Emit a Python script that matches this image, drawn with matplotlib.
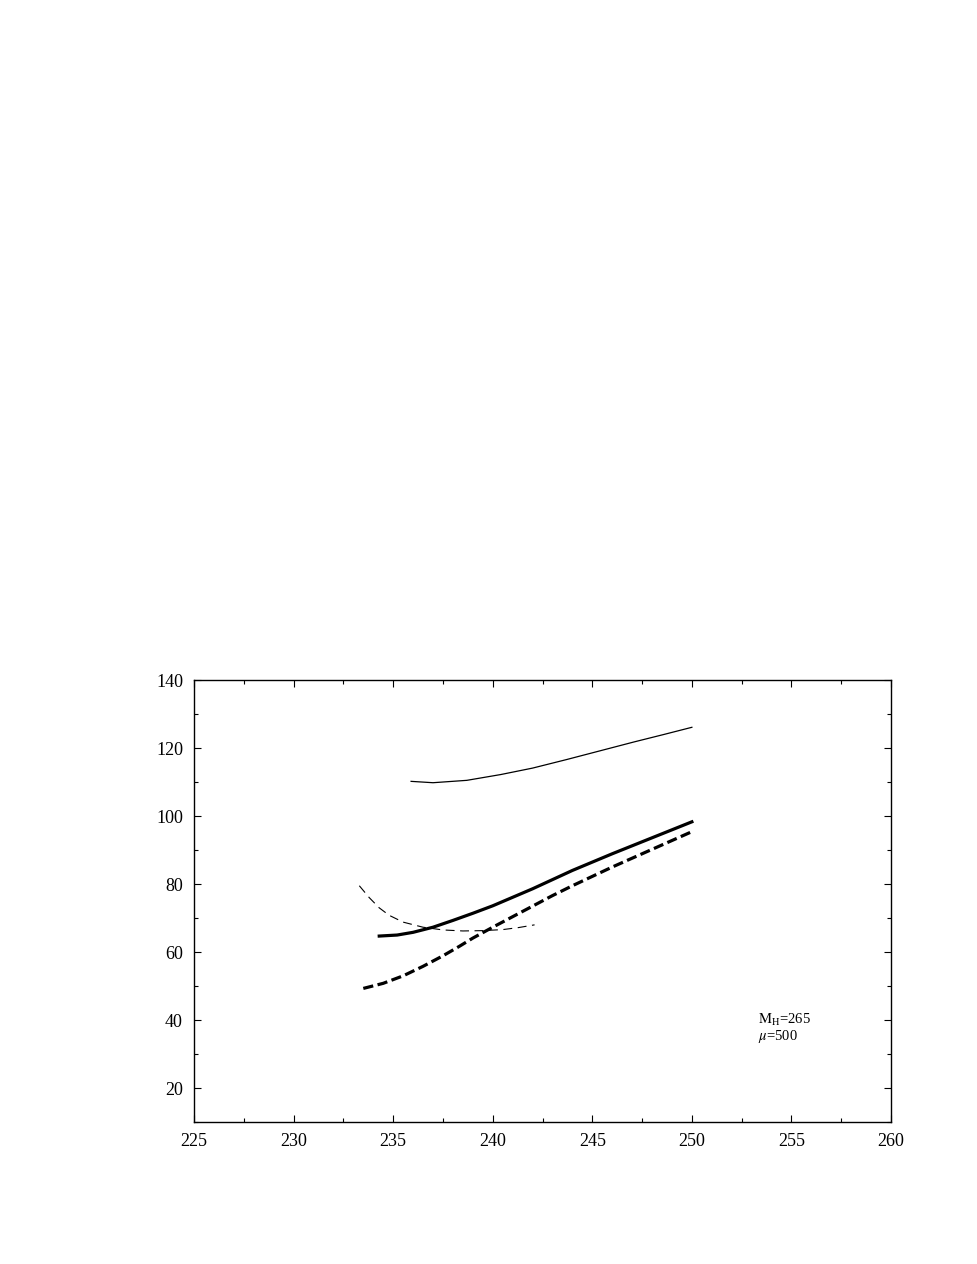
import matplotlib
matplotlib.use('Agg')
import matplotlib.pyplot as plt
from matplotlib.ticker import MultipleLocator

plt.rcParams['font.family'] = ['Liberation Serif', 'DejaVu Serif']
plt.rcParams['mathtext.fontset'] = 'stix'

# 细实线
thin_solid_x = [235.9, 237.0, 238.7, 240.4, 242.0, 243.7, 245.4, 247.1, 248.6, 250.0]
thin_solid_y = [110.2, 109.8, 110.5, 112.2, 114.1, 116.6, 119.2, 121.8, 124.0, 126.1]

# 粗实线
thick_solid_x = [234.3, 235.2, 236.0, 237.0, 238.0, 239.0, 240.0, 242.0, 244.0, 246.0, 248.0, 250.0]
thick_solid_y = [64.7, 65.0, 65.8, 67.3, 69.3, 71.4, 73.6, 78.6, 84.0, 88.9, 93.6, 98.3]

# 粗虚线
thick_dash_x = [233.5, 234.5, 235.5, 236.5, 237.5, 238.3, 239.0, 240.0, 241.0, 242.0, 243.0, 244.0, 246.0, 248.0, 250.0]
thick_dash_y = [49.3, 50.8, 53.0, 55.8, 58.9, 61.6, 64.1, 67.3, 70.4, 73.5, 76.6, 79.5, 85.0, 90.2, 95.4]

# 细虚线
thin_dash_x = [233.3, 233.8, 234.3, 234.8, 235.5, 236.5, 237.5, 238.5, 239.5, 240.5, 241.3, 242.1]
thin_dash_y = [79.5, 76.0, 73.0, 70.8, 68.8, 67.3, 66.5, 66.2, 66.3, 66.6, 67.2, 68.0]

fig = plt.figure(figsize=(9.77, 12.64), dpi=100)
ax = fig.add_axes([0.1986, 0.1123, 0.7134, 0.3497])

ax.plot(thin_solid_x, thin_solid_y, color='black', lw=0.9)
ax.plot(thick_solid_x, thick_solid_y, color='black', lw=2.3)
ax.plot(thick_dash_x, thick_dash_y, color='black', lw=2.3, dashes=(3.2, 1.4))
ax.plot(thin_dash_x, thin_dash_y, color='black', lw=0.8, dashes=(8, 5))

ax.set_xlim(225, 260)
ax.set_ylim(10, 140)
ax.xaxis.set_major_locator(MultipleLocator(5))
ax.xaxis.set_minor_locator(MultipleLocator(2.5))
ax.yaxis.set_minor_locator(MultipleLocator(10))
ax.set_yticks([20, 40, 60, 80, 100, 120, 140])
ax.tick_params(which='both', direction='in', top=True, right=True, labelsize=13)
ax.tick_params(which='major', length=5, width=0.8)
ax.tick_params(which='minor', length=3, width=0.8)
ax.tick_params(axis='x', which='major', pad=8)
ax.tick_params(axis='y', which='major', pad=8)
for sp in ax.spines.values():
    sp.set_linewidth(1.0)

ax.text(253.3, 37.4, '$\\mathrm{M_H}$=265\n$\\mu$=500', fontsize=10.5, va='center', ha='left',
        linespacing=1.0)

fig.savefig('out.png', dpi=100)
